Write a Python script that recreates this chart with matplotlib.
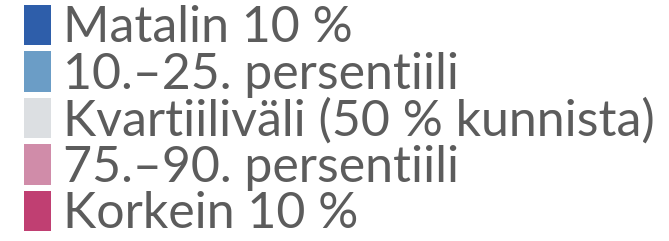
import matplotlib.pyplot as plt
from matplotlib.patches import Patch

labels = [
    "Matalin 10 %",
    "10.–25. persentiili",
    "Kvartiiliväli (50 % kunnista)",
    "75.–90. persentiili",
    "Korkein 10 %",
]
colors = ["#2e5eaa", "#6b9dc6", "#dcdfe2", "#d08ca9", "#c03f72"]

plt.rcParams["font.family"] = ["Lato", "DejaVu Sans"]

fig = plt.figure(figsize=(6.69, 2.41), dpi=100)
handles = [Patch(facecolor=c, edgecolor="none") for c in colors]
leg = fig.legend(
    handles, labels,
    loc="upper left", bbox_to_anchor=(0.028, 1.0),
    frameon=False, fontsize=36,
    handlelength=0.54, handleheight=0.86, handletextpad=0.25,
    labelspacing=0.0, borderaxespad=0.0, borderpad=0.1,
)
for t in leg.get_texts():
    t.set_color("#5c5c5c")

fig.savefig("out.png", dpi=100)
